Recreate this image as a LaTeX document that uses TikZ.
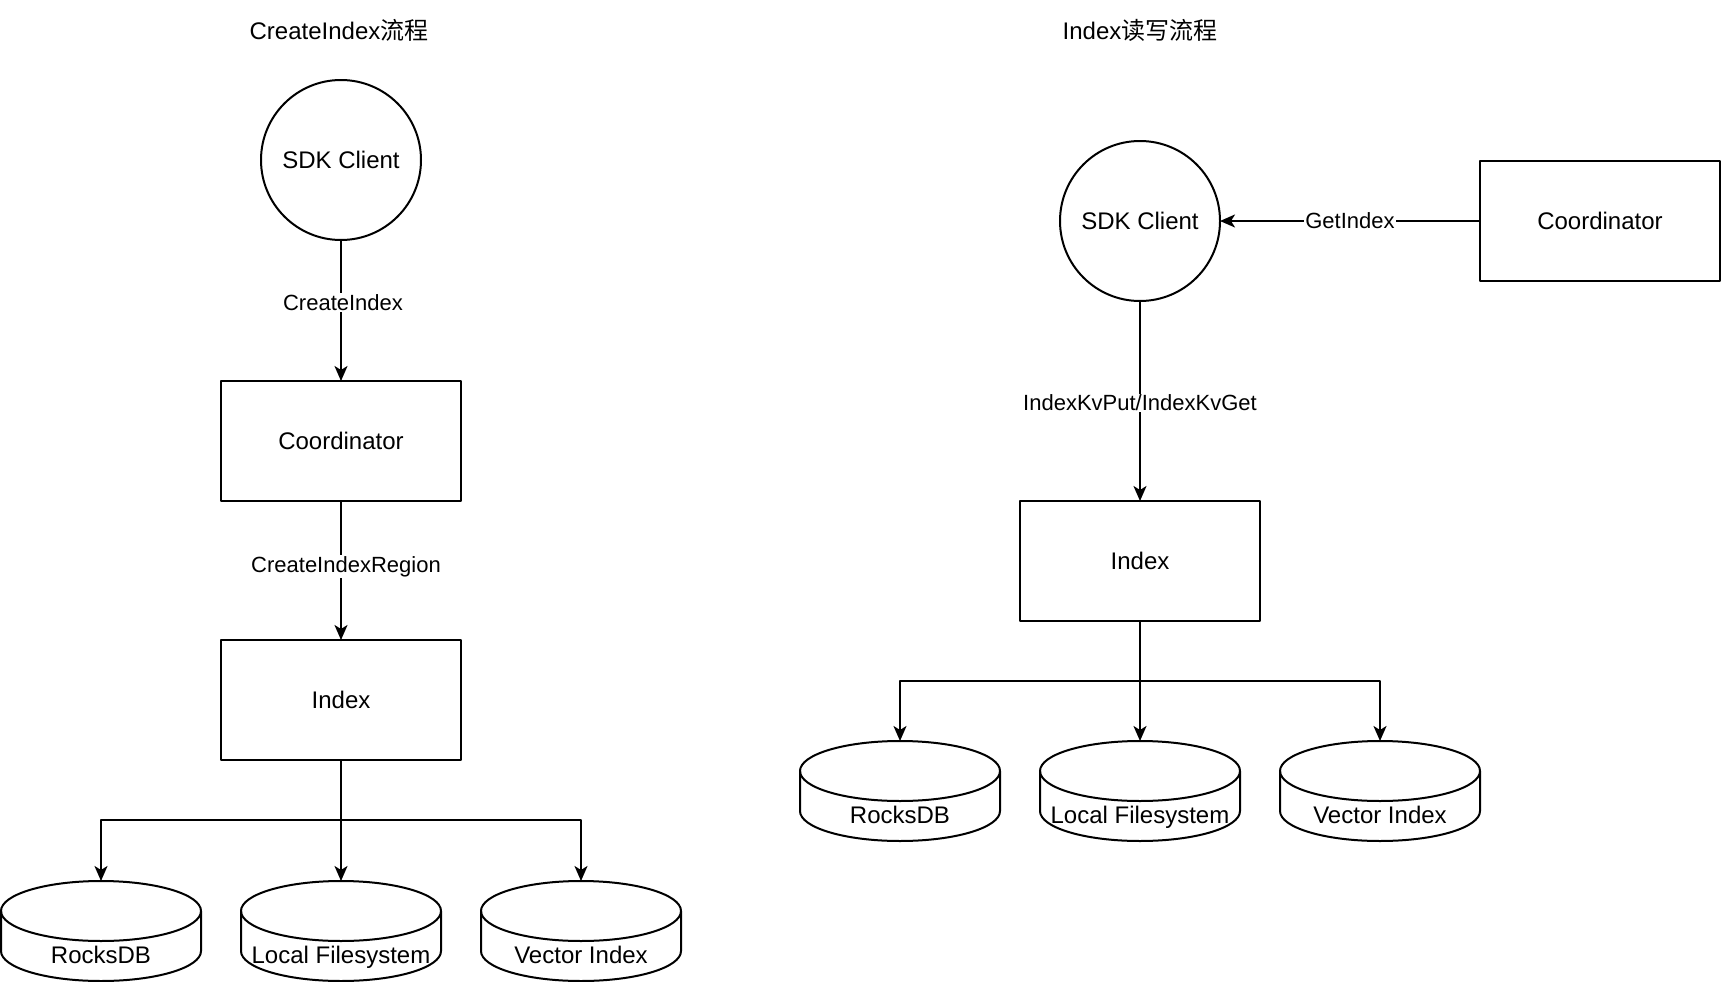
\documentclass[tikz,border=0pt]{standalone}
\usepackage{fontspec}
\setmainfont{Liberation Sans}
\newfontfamily\cjk{Noto Sans CJK SC}
\usetikzlibrary{arrows.meta}

\begin{document}
\begin{tikzpicture}[x=1pt, y=-1pt, line width=2pt, line join=round,
    txt/.style={font=\fontsize{24}{29}\selectfont},
    box/.style={draw, txt, minimum width=240pt, minimum height=120pt, inner sep=0pt, outer sep=0pt},
    client/.style={draw, circle, txt, minimum size=160pt, inner sep=0pt, outer sep=0pt},
    dbcyl/.style={minimum width=200pt, minimum height=100pt, inner sep=0pt, outer sep=0pt,
                  label={[txt, text height=17.5pt, text depth=0pt, yshift=-24pt]center:#1}},
    lbl/.style={fill=white, inner sep=1pt, font=\fontsize{22}{26}\selectfont},
    flow/.style={-{Stealth[length=15pt, width=13pt, inset=4pt]}}]

  %% ════ 左：CreateIndex 流程 ════
  \node[txt] (ttlA) at (339,30) {CreateIndex{\cjk 流程}};
  \node[client] (cliA) at (341,160) {SDK Client};
  \node[box] (crdA) at (341,441) {Coordinator};
  \node[box] (idxA) at (341,700) {Index};
  \coordinate (forkA) at (341,820);
  \node[dbcyl=RocksDB] (rdbA) at (101,931) {};
  \node[dbcyl=Local Filesystem] (lfsA) at (341,931) {};
  \node[dbcyl=Vector Index] (vecA) at (581,931) {};

  \draw[flow] (cliA) -- node[lbl, xshift=2pt, yshift=8pt] {CreateIndex} (crdA);
  \draw[flow] (crdA) -- node[lbl, xshift=5pt, yshift=4pt] {CreateIndexRegion} (idxA);
  \draw (idxA.south) -- (forkA);
  \draw[flow] (forkA) -| (rdbA.north);
  \draw[flow] (forkA) -- (lfsA.north);
  \draw[flow] (forkA) -| (vecA.north);

  %% ════ 右：Index 读写流程 ════
  \node[txt] (ttlB) at (1140,30) {Index{\cjk 读写流程}};
  \node[client] (cliB) at (1140,221) {SDK Client};
  \node[box] (crdB) at (1600,221) {Coordinator};
  \node[box] (idxB) at (1140,561) {Index};
  \coordinate (forkB) at (1140,681);
  \node[dbcyl=RocksDB] (rdbB) at (900,791) {};
  \node[dbcyl=Local Filesystem] (lfsB) at (1140,791) {};
  \node[dbcyl=Vector Index] (vecB) at (1380,791) {};

  \draw[flow] (crdB) -- node[lbl] {GetIndex} (cliB);
  \draw[flow] (cliB) -- node[lbl, yshift=-2pt] {IndexKvPut/IndexKvGet} (idxB);
  \draw (idxB.south) -- (forkB);
  \draw[flow] (forkB) -| (rdbB.north);
  \draw[flow] (forkB) -- (lfsB.north);
  \draw[flow] (forkB) -| (vecB.north);

  %% ════ 圆柱（存储）════
  \foreach \c in {rdbA,lfsA,vecA,rdbB,lfsB,vecB}{
    \draw ([yshift=-30pt]\c.north) ellipse [x radius=100pt, y radius=30pt];
    \draw ([yshift=-30pt]\c.north west) -- ([yshift=30pt]\c.south west)
      arc [start angle=180, end angle=360, x radius=100pt, y radius=30pt]
      -- ([yshift=-30pt]\c.north east);
  }

  % 钉死画布
  \path[use as bounding box] (0,0) rectangle (1722,982);
\end{tikzpicture}
\end{document}
